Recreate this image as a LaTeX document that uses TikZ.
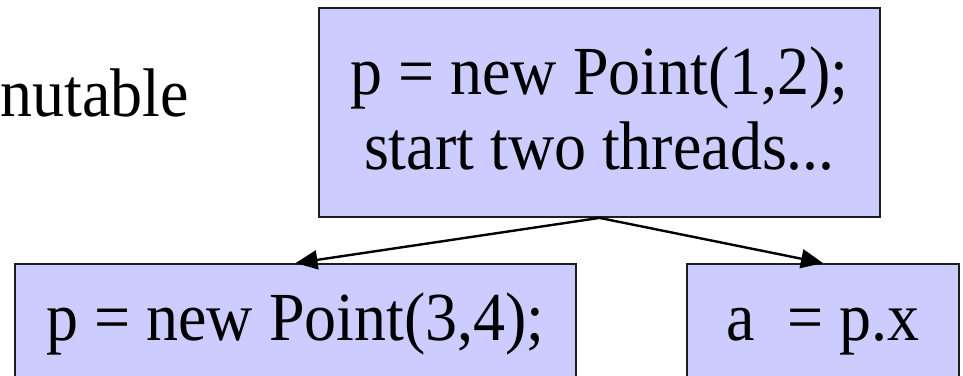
\documentclass[tikz,border=0pt]{standalone}
\usepackage{fontspec}
\setmainfont{Liberation Serif}[FakeStretch=0.93]
\usetikzlibrary{arrows.meta}
\definecolor{boxfill}{RGB}{204,204,255}
\definecolor{boxline}{RGB}{30,30,30}
\tikzset{
  codebox/.style={draw=boxline, fill=boxfill, line width=0.9pt, rectangle, inner sep=0pt,
    font=\fontsize{34.4}{37.5}\selectfont, align=center},
  lowbox/.style={codebox, minimum height=60.5pt, text height=23pt, text depth=7pt},
  arr/.style={draw=black, line width=1.2pt, -{Triangle[length=11pt,width=9.5pt]}},
  plain/.style={inner sep=0pt, font=\fontsize{34.4}{38}\selectfont}
}
\begin{document}
\begin{tikzpicture}[x=0.5pt,y=-0.5pt]
\useasboundingbox (0,0) rectangle (963,375);
\clip (0,0) rectangle (963,375);
\node[plain, anchor=base west] (word) at (0,116) {nutable};
\node[codebox, minimum width=280.5pt, minimum height=104.5pt] (top) at (599.5,112.5)
  {p = new Point(1,2);\\start two threads...\rule[-4pt]{0pt}{4pt}};
\node[lowbox, minimum width=280.5pt] (left) at (295.5,324.5) {p = new Point(3,4);};
\node[lowbox, minimum width=136pt] (right) at (823,324.5) {a\ \ = p.x};
\draw[arr] (top.south) -- (left.north);
\draw[arr] (top.south) -- (right.north);
\end{tikzpicture}
\end{document}
